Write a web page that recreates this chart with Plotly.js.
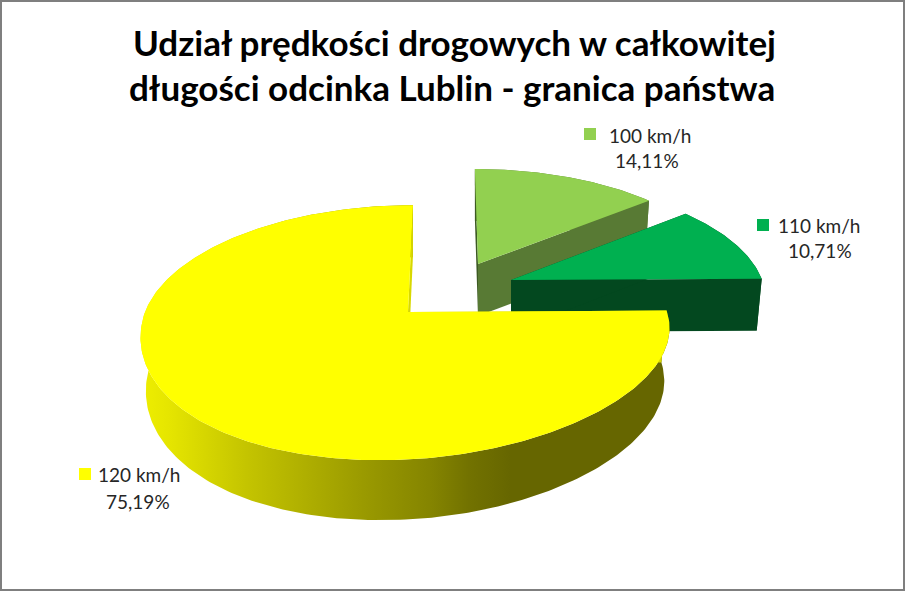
<!DOCTYPE html>
<html><head><meta charset="utf-8">
<script src="https://cdn.plot.ly/plotly-3.0.1.min.js"></script>
<style>html,body{margin:0;padding:0;background:#fff}#c{width:905px;height:591px}</style></head>
<body><div id="c"></div>
<script>
const titleLines = ["Udział prędkości drogowych w całkowitej", "długości odcinka Lublin - granica państwa"];
const categories = ["100 km/h", "110 km/h", "120 km/h"];
const shares = [14.11, 10.71, 75.19];
const topColors = ["#92d050", "#00b050", "#ffff00"];
const wallColors = ["#587a34", "#03481f", "#d8d800"];

// wedge placement on the page (explosion offset, perspective shrink)
const offsetX = [70, 103, 0];
const offsetY = [-48, -32, 0];
const shrinkX = [0.95, 0.97, 1];
const shrinkY = [0.89, 0.93, 1];
const skews = [3.8, 3.8, -5.8];
const labelX = [650, 819, 139];
const labelY = [135, 225, 474];
const pctX = [647, 820, 138];
const pctY = [160, 250, 501];
const keyX = [590, 763, 85];
const keyY = [134, 225, 474];

const cx = 408, cy = 312, axR = 259, axL = 263, by = 124, persp = 0.161, twist = 12;
const total = shares.reduce((a, b) => a + b, 0);

function topPoint(deg, i) {
  const t = deg * Math.PI / 180, u = Math.sin(t), v = -Math.cos(t), d = 1 - persp * v;
  const ax = u > 0 ? axR : axL;
  return [cx + offsetX[i] + shrinkX[i] * (ax * u + skews[i] * v) / d,
          cy + offsetY[i] + shrinkY[i] * by * v / d - twist * u * Math.max(v, 0), v];
}
function bottomPoint(p, i) {
  const ox = cx + offsetX[i];
  return [ox + (p[0] - ox) * 0.98, p[1] + 52 + 8 * Math.max(p[2], 0)];
}
function arc(a0, a1, i) {
  const pts = [];
  const n = Math.max(8, Math.ceil(Math.abs(a1 - a0)));
  for (let k = 0; k <= n; k++) pts.push(topPoint(a0 + (a1 - a0) * k / n, i));
  return pts;
}
function poly(pts, color, extra) {
  return Object.assign({
    type: "scatter", mode: "lines", x: pts.map(p => p[0]), y: pts.map(p => p[1]),
    fill: "toself", fillcolor: color, line: {width: 0, color: color},
    hoverinfo: "skip", showlegend: false
  }, extra || {});
}

const traces = [];
let start = 0;
shares.forEach((s, i) => {
  const end = start + s / total * 360;
  const apex = [cx + offsetX[i], cy + offsetY[i], 0];
  const apexB = bottomPoint(apex, i);
  const pts = arc(start, end, i);
  const pS = pts[0], pE = pts[pts.length - 1];
  const outer = pts.concat(pts.map(p => bottomPoint(p, i)).reverse());
  if (i === 2) {
    traces.push(poly(outer, "#666600", {
      fillgradient: {type: "horizontal", start: 141, stop: 670,
        colorscale: [[0, "#eeee00"], [0.05, "#e6e600"], [0.2, "#c4c400"], [0.42, "#9a9a00"],
                     [0.55, "#848400"], [0.62, "#727200"], [0.7, "#666600"], [1, "#666600"]]}
    }));
  } else {
    traces.push(poly(outer, wallColors[i]));
  }
  traces.push(poly([apex, pE, bottomPoint(pE, i), apexB, apex], wallColors[i]));
  traces.push(poly([apex, pS, bottomPoint(pS, i), apexB, apex], i === 0 ? "#3c5a22" : wallColors[i]));
  traces.push(poly([apex].concat(pts).concat([apex]), topColors[i]));
  start = end;
});
traces.push({
  type: "scatter", mode: "markers", x: keyX, y: keyY,
  marker: {symbol: "square", size: 12, color: topColors, line: {width: 0}},
  hoverinfo: "skip", showlegend: false
});

const txt = {family: "Lato, 'Open Sans', sans-serif", size: 19, color: "#262626"};
const annotations = [];
categories.forEach((c, i) => {
  annotations.push({xref: "x", yref: "y", x: labelX[i], y: labelY[i], text: c, showarrow: false, font: txt, xanchor: "center", yanchor: "middle"});
  annotations.push({xref: "x", yref: "y", x: pctX[i], y: pctY[i], text: shares[i].toFixed(2).replace(".", ",") + "%", showarrow: false, font: txt, xanchor: "center", yanchor: "middle"});
});
titleLines.forEach((t, k) => annotations.push({
  xref: "x", yref: "y", x: k ? 452 : 454, y: k ? 87 : 42, text: "<b>" + t + "</b>", showarrow: false,
  font: {family: "Lato, 'Open Sans', sans-serif", size: 35, color: "#000"}, xanchor: "center", yanchor: "middle"
}));

const layout = {
  width: 905, height: 591, margin: {l: 0, r: 0, t: 0, b: 0},
  paper_bgcolor: "#fff", plot_bgcolor: "#fff", showlegend: false,
  xaxis: {range: [0, 905], visible: false, fixedrange: true},
  yaxis: {range: [591, 0], visible: false, fixedrange: true},
  annotations: annotations,
  shapes: [{type: "rect", xref: "paper", yref: "paper", x0: 0, x1: 1, y0: 0, y1: 1,
    line: {color: "#7f7f7f", width: 4}, fillcolor: "rgba(0,0,0,0)"}]
};
Plotly.newPlot("c", traces, layout, {displayModeBar: false, staticPlot: true});
</script></body></html>
